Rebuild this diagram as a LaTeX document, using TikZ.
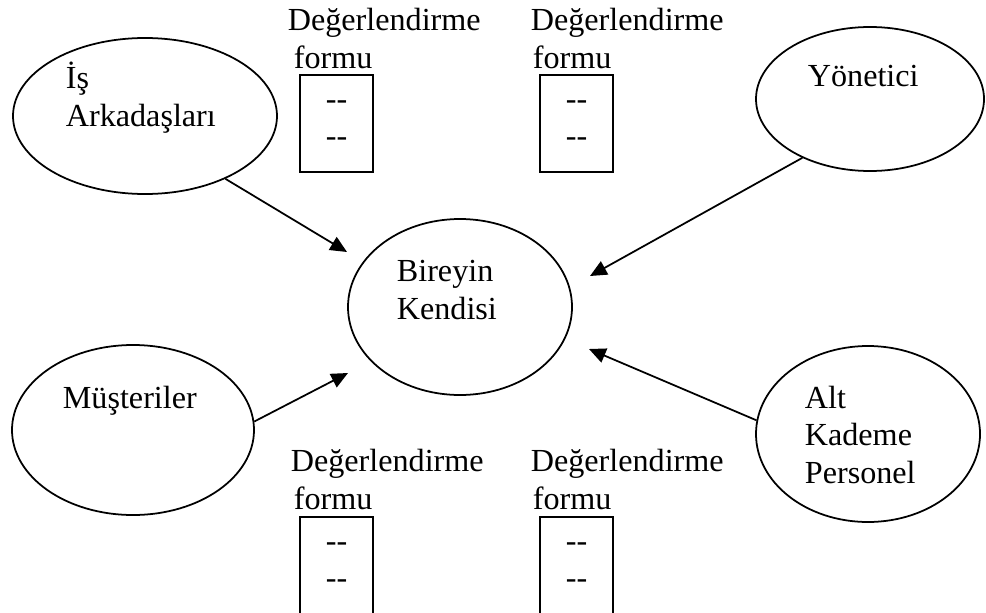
\documentclass[tikz,border=0pt]{standalone}
\usepackage{fontspec}
\setmainfont{Liberation Serif}
\usetikzlibrary{arrows.meta, shapes.geometric}

\begin{document}
\begin{tikzpicture}[x=0.02cm, y=-0.02cm, line width=1pt,
  font=\fontsize{18.3}{21.2}\selectfont,
  >={Triangle[length=9.5pt, width=8.5pt]},
  oval/.style={draw, ellipse, inner sep=0pt},
  formbox/.style={draw, rectangle, inner sep=0pt, align=left,
    minimum width=1.46cm, minimum height=1.94cm},
  lbl/.style={anchor=base west, align=left, inner sep=0pt}]
  % Define unit (one pixel of the page)
  \def\px{0.02cm}

  \useasboundingbox (0,0) rectangle (986,612);

  % ---- Evaluators (ellipses) ----
  \node[oval, minimum width=264*\px, minimum height=156*\px] (cowork) at (145,116) {};
  \node[oval, minimum width=228*\px, minimum height=144*\px] (manager) at (870,99) {};
  \node[oval, minimum width=224*\px, minimum height=176*\px] (self) at (460,307) {};
  \node[oval, minimum width=242*\px, minimum height=170*\px] (customers) at (133,430) {};
  \node[oval, minimum width=224*\px, minimum height=176*\px] (subord) at (868,434) {};

  % ---- Ellipse labels (placed at the baseline of the last line) ----
  \node[lbl] (coworktxt) at (65,126) {İş\\Arkadaşları};
  \node[lbl] (managertxt) at (807,86) {Yönetici};
  \node[lbl] (selftxt) at (396,319) {Bireyin\\Kendisi};
  \node[lbl] (customerstxt) at (62,408) {Müşteriler};
  \node[lbl] (subordtxt) at (804,483) {Alt\\Kademe\\Personel};

  % ---- Arrows into the self ----
  \coordinate (t1) at (347,252);
  \coordinate (t2) at (590,276);
  \coordinate (t3) at (348,373);
  \coordinate (t4) at (589,349);
  \draw[->] (cowork.-38) -- (t1);
  \draw[->] (manager.-139) -- (t2);
  \draw[->] (customers.4) -- (t3);
  \draw[->] (subord.173) -- (t4);

  % ---- Evaluation forms ----
  \node[formbox] (form1) at (336.5,123.5) {-{}-\\-{}-};
  \node[formbox] (form2) at (576.5,123.5) {-{}-\\-{}-};
  \node[formbox] (form3) at (336.5,565.5) {-{}-\\-{}-};
  \node[formbox] (form4) at (576.5,565.5) {-{}-\\-{}-};

  \node[lbl] (form1lbl) at (287,68) {Değerlendirme\\\hspace{0.12cm}formu};
  \node[lbl] (form2lbl) at (530,68) {Değerlendirme\\\hspace{0.04cm}formu};
  \node[lbl] (form3lbl) at (290,509) {Değerlendirme\\\hspace{0.06cm}formu};
  \node[lbl] (form4lbl) at (530,509) {Değerlendirme\\\hspace{0.04cm}formu};

\end{tikzpicture}
\end{document}
